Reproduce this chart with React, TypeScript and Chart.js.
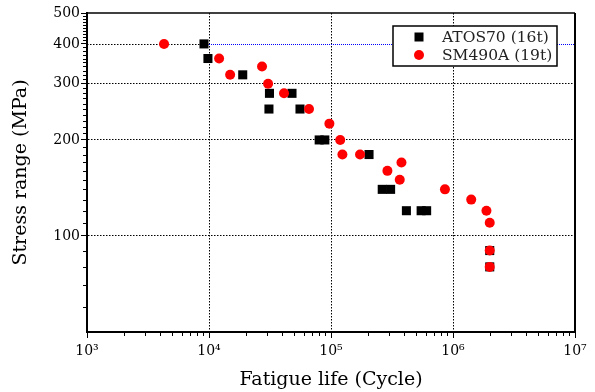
import React, { useEffect, useRef } from 'react';
import { Chart, registerables } from 'chart.js';

Chart.register(...registerables);

// ---- data ----
const seriesNames = ['ATOS70 (16t)', 'SM490A (19t)'];

const atosCycles = [9100, 9800, 18900, 31300, 47900, 31000, 55700, 80000, 89000, 205000, 263000, 308000, 415000, 548000, 608000, 2000000, 2000000];
const atosStress = [400, 360, 320, 280, 280, 250, 250, 200, 200, 180, 140, 140, 120, 120, 120, 90, 80];

const smCycles = [4280, 12100, 14900, 27200, 30500, 41200, 66000, 97000, 119000, 124000, 173000, 290000, 378000, 366000, 859000, 1410000, 1880000, 2000000, 2000000, 2000000];
const smStress = [400, 360, 320, 340, 300, 280, 250, 225, 200, 180, 180, 160, 170, 150, 140, 130, 120, 110, 90, 80];

const xTickValues = [1e3, 1e4, 1e5, 1e6, 1e7];
const yTickValues = [100, 200, 300, 400, 500];
const yGridValues = [100, 200, 300];
const splitLineStress = 400;
const splitLineCycles = 1e4;

const SERIF = '"DejaVu Serif", "Liberation Serif", serif';
const SUP: Record<string, string> = { '0': '⁰', '1': '¹', '2': '²', '3': '³', '4': '⁴', '5': '⁵', '6': '⁶', '7': '⁷', '8': '⁸', '9': '⁹' };
const GRID_DASH = [1.5, 1.5];

function xLabel(v: number): string {
  const e = String(Math.round(Math.log10(v)));
  return '10' + e.split('').map((c) => SUP[c] || c).join('');
}

const decorPlugin = {
  id: 'decor',
  beforeDatasetsDraw(chart: any) {
    const { ctx, chartArea: a, scales } = chart;
    const xs = scales.x;
    const ys = scales.y;
    const yy = Math.round(ys.getPixelForValue(splitLineStress)) + 0.5;
    const xSplit = xs.getPixelForValue(splitLineCycles);
    ctx.save();
    ctx.lineWidth = 1;
    ctx.setLineDash(GRID_DASH);
    ctx.strokeStyle = '#000';
    ctx.beginPath();
    ctx.moveTo(a.left, yy);
    ctx.lineTo(xSplit, yy);
    ctx.stroke();
    ctx.setLineDash([1, 1]);
    ctx.strokeStyle = '#0000ff';
    ctx.beginPath();
    ctx.moveTo(xSplit, yy);
    ctx.lineTo(a.right, yy);
    ctx.stroke();
    ctx.restore();
  },
  afterDraw(chart: any) {
    const { ctx, chartArea: a, scales } = chart;
    const xs = scales.x;
    const ys = scales.y;
    ctx.save();
    // frame top and right
    ctx.strokeStyle = '#000';
    ctx.lineWidth = 1.5;
    ctx.beginPath();
    ctx.moveTo(a.left, a.top);
    ctx.lineTo(a.right, a.top);
    ctx.stroke();
    ctx.lineWidth = 2;
    ctx.beginPath();
    ctx.moveTo(a.right, a.top);
    ctx.lineTo(a.right, a.bottom + 1);
    ctx.stroke();

    // minor ticks
    ctx.lineWidth = 1;
    ctx.beginPath();
    for (let d = 1e3; d < 1e7; d *= 10) {
      for (let k = 2; k <= 9; k++) {
        const px = Math.round(xs.getPixelForValue(k * d)) + 0.5;
        ctx.moveTo(px, a.bottom);
        ctx.lineTo(px, a.bottom + 4);
      }
    }
    for (let v = 60; v < 500; v += 10) {
      if (v % 100 === 0) continue;
      const py = Math.round(ys.getPixelForValue(v)) + 0.5;
      ctx.moveTo(a.left - 4, py);
      ctx.lineTo(a.left, py);
    }
    ctx.stroke();

    // legend
    const bx = a.right - 182;
    const by = a.top + 13;
    const bw = 164;
    const bh = 40;
    ctx.fillStyle = '#fff';
    ctx.fillRect(bx, by, bw, bh);
    ctx.strokeStyle = '#000';
    ctx.lineWidth = 1.5;
    ctx.strokeRect(bx, by, bw, bh);
    const mx = bx + 26;
    const r1 = by + 11;
    const r2 = by + 29;
    ctx.fillStyle = '#000';
    ctx.fillRect(mx - 4.5, r1 - 4.5, 9, 9);
    ctx.fillStyle = '#ff0000';
    ctx.beginPath();
    ctx.arc(mx, r2, 5, 0, Math.PI * 2);
    ctx.fill();
    ctx.fillStyle = '#222';
    ctx.font = '15.5px ' + SERIF;
    ctx.textBaseline = 'middle';
    ctx.textAlign = 'left';
    ctx.fillText(seriesNames[0], bx + 49, r1 + 1);
    ctx.fillText(seriesNames[1], bx + 49, r2 + 1);
    ctx.restore();
  },
};

export default function App() {
  const ref = useRef<HTMLCanvasElement>(null);
  useEffect(() => {
    const canvas = ref.current;
    if (!canvas) return;
    const chart = new Chart(canvas, {
      type: 'scatter',
      data: {
        datasets: [
          {
            label: seriesNames[0],
            data: atosCycles.map((c, i) => ({ x: c, y: atosStress[i] })),
            pointStyle: 'rect',
            pointRadius: 6.4,
            pointHoverRadius: 6.4,
            backgroundColor: '#000',
            borderColor: '#000',
            borderWidth: 0,
            order: 1,
          },
          {
            label: seriesNames[1],
            data: smCycles.map((c, i) => ({ x: c, y: smStress[i] })),
            pointStyle: 'circle',
            pointRadius: 5,
            pointHoverRadius: 5,
            backgroundColor: '#ff0000',
            borderColor: '#ff0000',
            borderWidth: 0,
            order: 0,
          },
        ],
      },
      options: {
        responsive: true,
        maintainAspectRatio: false,
        animation: false,
        layout: { padding: { top: 13, right: 20, left: 0, bottom: 0 } },
        plugins: { legend: { display: false }, tooltip: { enabled: false } },
        scales: {
          x: {
            type: 'logarithmic',
            min: 1e3,
            max: 1e7,
            afterBuildTicks: (s: any) => {
              s.ticks = xTickValues.map((v) => ({ value: v }));
            },
            afterFit: (s: any) => {
              s.height = 60;
            },
            ticks: {
              callback: (v: any) => xLabel(Number(v)),
              font: { family: SERIF, size: 14 },
              color: '#000',
              padding: 5,
              maxRotation: 0,
              autoSkip: false,
            },
            grid: {
              color: (c: any) =>
                c.tick && c.tick.value > 1e3 && c.tick.value < 1e7 ? '#000' : 'rgba(0,0,0,0)',
              tickColor: '#000',
              tickLength: 6,
              lineWidth: 1,
            },
            border: { display: true, color: '#000', width: 2, dash: GRID_DASH },
            title: {
              display: true,
              text: 'Fatigue life (Cycle)',
              font: { family: SERIF, size: 19 },
              color: '#000',
              padding: { top: 0, bottom: 1 },
            },
          },
          y: {
            type: 'logarithmic',
            min: 50,
            max: 500,
            afterBuildTicks: (s: any) => {
              s.ticks = yTickValues.map((v) => ({ value: v }));
            },
            afterFit: (s: any) => {
              s.width = 87;
            },
            ticks: {
              callback: (v: any) => String(v),
              font: { family: SERIF, size: 14 },
              color: '#000',
              padding: 1,
              autoSkip: false,
            },
            grid: {
              color: (c: any) =>
                c.tick && yGridValues.includes(c.tick.value) ? '#000' : 'rgba(0,0,0,0)',
              tickColor: '#000',
              tickLength: 6,
              lineWidth: 1,
            },
            border: { display: true, color: '#000', width: 2, dash: GRID_DASH },
            title: {
              display: true,
              text: 'Stress range (MPa)',
              font: { family: SERIF, size: 19 },
              color: '#000',
              padding: { top: 10, bottom: 0 },
            },
          },
        },
      },
      plugins: [decorPlugin],
    } as any);
    return () => chart.destroy();
  }, []);
  return (
    <div style={{ position: 'fixed', left: 0, top: 0, width: 595, height: 392, background: '#fff' }}>
      <canvas ref={ref} />
    </div>
  );
}
